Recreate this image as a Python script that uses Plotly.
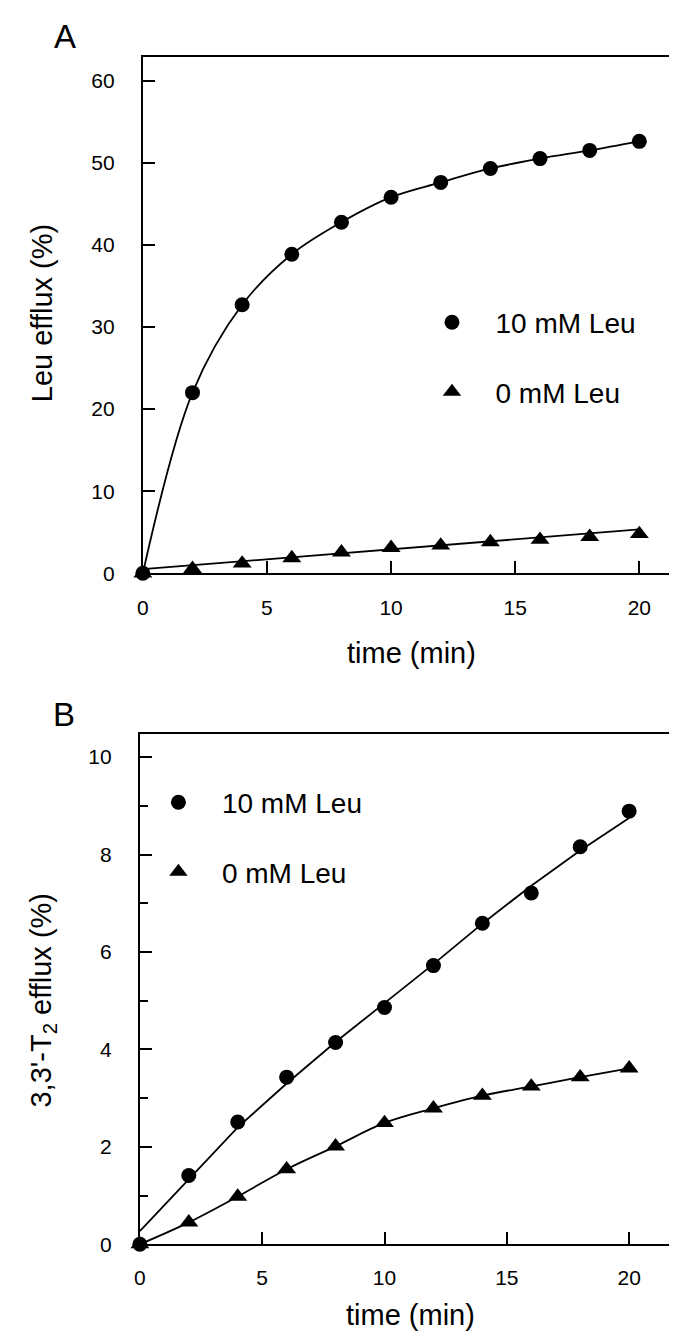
import plotly.graph_objects as go

# ---------------- data ----------------
time_min = [0, 2, 4, 6, 8, 10, 12, 14, 16, 18, 20]

# Panel A: Leu efflux (%)
leuA_10mM = [0, 22.0, 32.7, 38.85, 42.75, 45.8, 47.6, 49.3, 50.5, 51.5, 52.6]
leuA_0mM = [0, 0.55, 1.2, 1.85, 2.55, 3.1, 3.4, 3.8, 4.1, 4.45, 4.8]
fitA_0mM_x = [0, 20]
fitA_0mM_y = [0.5, 5.35]

# Panel B: 3,3'-T2 efflux (%)
t2B_10mM = [0, 1.41, 2.51, 3.43, 4.14, 4.86, 5.72, 6.59, 7.21, 8.16, 8.89]
t2B_0mM = [0, 0.45, 0.98, 1.54, 2.01, 2.49, 2.79, 3.05, 3.24, 3.43, 3.61]
fitB_10mM_y = [0.27, 1.34, 2.4, 3.3, 4.15, 4.95, 5.75, 6.58, 7.36, 8.08, 8.75]

label_10 = "10 mM Leu"
label_0 = "0 mM Leu"

# ---------------- figure ----------------
W, H = 677, 1337
FONT = "Liberation Sans, Arial, Helvetica, sans-serif"

def px_x(p):
    return p / W

def px_y(p):
    return 1 - p / H

fig = go.Figure()

mk_c = dict(symbol="circle", size=15, color="black")
mk_t = dict(symbol="triangle-up", size=16.5, color="black")
ln = dict(color="black", width=1.8)

# Panel A
fig.add_trace(go.Scatter(x=time_min, y=leuA_10mM, mode="lines", line=dict(shape="spline", **ln),
                         showlegend=False, xaxis="x", yaxis="y", hoverinfo="skip"))
fig.add_trace(go.Scatter(x=fitA_0mM_x, y=fitA_0mM_y, mode="lines", line=ln,
                         showlegend=False, xaxis="x", yaxis="y", hoverinfo="skip"))
fig.add_trace(go.Scatter(x=time_min, y=leuA_10mM, mode="markers", marker=mk_c, name=label_10,
                         legend="legend", legendgroup="a10", cliponaxis=False, xaxis="x", yaxis="y"))
fig.add_trace(go.Scatter(x=time_min, y=leuA_0mM, mode="markers", marker=mk_t, name=label_0,
                         legend="legend", legendgroup="a0", cliponaxis=False, xaxis="x", yaxis="y"))

# Panel B
fig.add_trace(go.Scatter(x=time_min, y=fitB_10mM_y, mode="lines", line=ln,
                         showlegend=False, xaxis="x2", yaxis="y2", hoverinfo="skip"))
fig.add_trace(go.Scatter(x=time_min, y=t2B_0mM, mode="lines", line=dict(shape="spline", **ln),
                         showlegend=False, xaxis="x2", yaxis="y2", hoverinfo="skip"))
fig.add_trace(go.Scatter(x=time_min, y=t2B_10mM, mode="markers", marker=mk_c, name=label_10,
                         legend="legend2", legendgroup="b10", cliponaxis=False, xaxis="x2", yaxis="y2"))
fig.add_trace(go.Scatter(x=time_min, y=t2B_0mM, mode="markers", marker=mk_t, name=label_0,
                         legend="legend2", legendgroup="b0", cliponaxis=False, xaxis="x2", yaxis="y2"))

axis_common = dict(showline=True, linecolor="black", linewidth=2, ticks="inside", ticklen=12,
                   tickwidth=1.5, tickcolor="black", showgrid=False, zeroline=False,
                   tickfont=dict(family=FONT, size=21, color="black"))

fig.update_layout(
    width=W, height=H,
    margin=dict(l=0, r=0, t=0, b=0),
    paper_bgcolor="white", plot_bgcolor="white",
    font=dict(family=FONT, color="black"),
    xaxis=dict(domain=[px_x(130), 1.0], range=[0, 21.84], tickvals=[0, 5, 10, 15, 20],
               mirror=True, anchor="y", ticklabelstandoff=14, **axis_common),
    yaxis=dict(domain=[px_y(570), px_y(49.5)], range=[0, 62.86], dtick=10,
               mirror=False, anchor="x", ticklabelstandoff=22, **axis_common),
    xaxis2=dict(domain=[px_x(127), px_x(670)], range=[0, 22.0], tickvals=[0, 5, 10, 15, 20],
                mirror=True, anchor="y2", ticklabelstandoff=14, **axis_common),
    yaxis2=dict(domain=[px_y(1246.5), px_y(731.7)], range=[0, 10.48], dtick=2,
                mirror=True, anchor="x2", ticklabelstandoff=22,
                minor=dict(ticks="inside", ticklen=8, tickwidth=1.5, tickcolor="black", dtick=1),
                **axis_common),
    legend=dict(x=px_x(398), y=px_y(292), xanchor="left", yanchor="top",
                font=dict(family=FONT, size=28, color="black"), bgcolor="rgba(0,0,0,0)",
                itemwidth=77, tracegroupgap=30, traceorder="grouped"),
    legend2=dict(x=px_x(122), y=px_y(776), xanchor="left", yanchor="top",
                 font=dict(family=FONT, size=28, color="black"), bgcolor="rgba(0,0,0,0)",
                 itemwidth=77, tracegroupgap=30, traceorder="grouped"),
)

ann_font = dict(family=FONT, size=29, color="black")
annotations = [
    dict(text="A", x=px_x(51), y=px_y(29), font=dict(family=FONT, size=33, color="black")),
    dict(text="B", x=px_x(50), y=px_y(712), font=dict(family=FONT, size=33, color="black")),
    dict(text="time (min)", x=px_x(401), y=px_y(650), font=ann_font),
    dict(text="time (min)", x=px_x(400), y=px_y(1318), font=ann_font),
    dict(text="Leu efflux (%)", x=px_x(29), y=px_y(308), textangle=-90, font=ann_font),
    dict(text="3,3'-T<sub>2</sub> efflux (%)", x=px_x(29), y=px_y(1000), textangle=-90, font=ann_font),
]
for a in annotations:
    a.update(xref="paper", yref="paper", showarrow=False, xanchor="center", yanchor="middle")
fig.update_layout(annotations=annotations)

fig.write_html("out.html")
